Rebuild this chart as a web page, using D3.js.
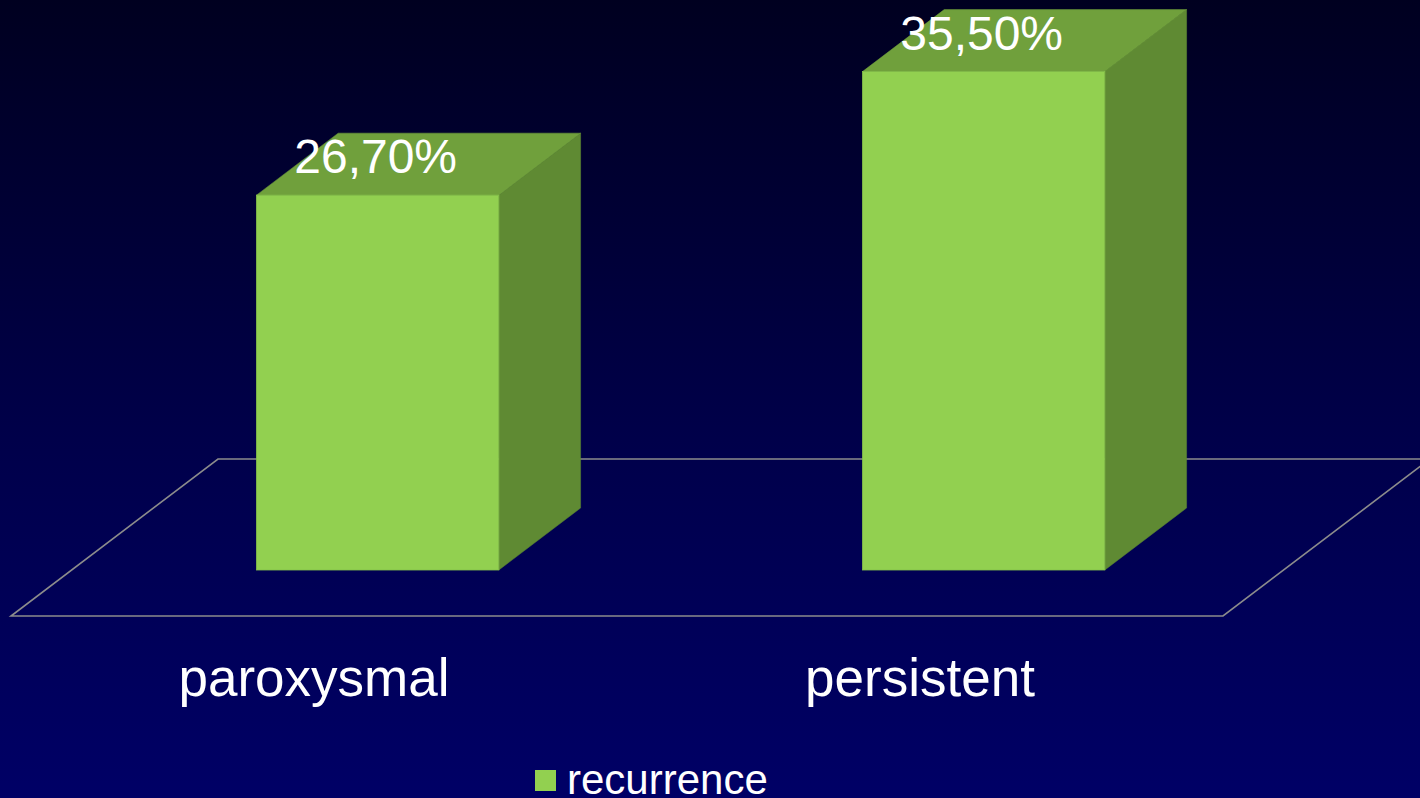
<!DOCTYPE html>
<html>
<head>
<meta charset="utf-8">
<script src="https://cdn.jsdelivr.net/npm/d3@7"></script>
<style>
html,body{margin:0;padding:0;background:#000040;overflow:hidden;}
svg{display:block;}
</style>
</head>
<body>
<svg id="chart" width="1420" height="798"></svg>
<script>
// ---- data ----
const categories = ["paroxysmal", "persistent"];
const values = [26.7, 35.5];
const valueLabels = ["26,70%", "35,50%"];
const seriesName = "recurrence";
const valueDomain = [0, 40];

// ---- layout ----
const W = 1420, H = 798;
const floorFrontY = 616, floorBackY = 459;
const floorLeft = 11, floorRight = 1223;
const depthTotal = floorFrontY - floorBackY;      // vertical depth in px
const k = 207 / 157;                               // oblique x shift per px of depth
const dFront = 46, dBack = 108;                    // bar depth positions
const barRatio = 0.4;
const barShift = 3;
const font = "'Liberation Sans', Arial, sans-serif";

const colFront = "#92D050", colTop = "#70A03C", colSide = "#5F8A33";

const svg = d3.select("#chart");
const defs = svg.append("defs");
const grad = defs.append("linearGradient").attr("id", "bg")
  .attr("x1", 0).attr("y1", 0).attr("x2", 0).attr("y2", 1);
grad.append("stop").attr("offset", "0%").attr("stop-color", "#000020");
grad.append("stop").attr("offset", "55%").attr("stop-color", "#00004A");
grad.append("stop").attr("offset", "100%").attr("stop-color", "#000066");
svg.append("rect").attr("width", W).attr("height", H).attr("fill", "url(#bg)");

const x = d3.scaleBand().domain(categories).range([floorLeft, floorRight]).padding(0);
const h = d3.scaleLinear().domain(valueDomain).range([0, 561.6]);

const proj = (px, py, d) => [px + d * k, py - d];

// floor
const floorPts = [
  [floorLeft, floorFrontY],
  [floorRight, floorFrontY],
  proj(floorRight, floorFrontY, depthTotal),
  proj(floorLeft, floorFrontY, depthTotal)
];
svg.append("path")
  .attr("d", d3.line()(floorPts) + "Z")
  .attr("fill", "none").attr("stroke", "#8C8C8C").attr("stroke-width", 1.6);

// bars
const data = categories.map((c, i) => ({c, v: values[i], label: valueLabels[i]}));
const bw = x.bandwidth() * barRatio;
const dd = dBack - dFront;

const g = svg.append("g");
data.forEach(d => {
  const cx = x(d.c) + x.bandwidth() / 2 + barShift;
  const [fcx, by] = proj(cx, floorFrontY, dFront);
  const x0 = fcx - bw / 2, x1 = fcx + bw / 2;
  const ty = by - h(d.v);
  const ox = dd * k, oy = -dd;
  // side
  g.append("path").attr("d", d3.line()([[x1, ty], [x1 + ox, ty + oy], [x1 + ox, by + oy], [x1, by]]) + "Z")
    .attr("fill", colSide).attr("stroke", colSide).attr("stroke-width", 0.5);
  // top
  g.append("path").attr("d", d3.line()([[x0, ty], [x0 + ox, ty + oy], [x1 + ox, ty + oy], [x1, ty]]) + "Z")
    .attr("fill", colTop).attr("stroke", colTop).attr("stroke-width", 0.5);
  // front
  g.append("rect").attr("x", x0).attr("y", ty).attr("width", bw).attr("height", by - ty)
    .attr("fill", colFront).attr("stroke", "#86C04A").attr("stroke-width", 0.8);
  // value label
  g.append("text").attr("x", fcx - 2).attr("y", ty - 22)
    .attr("text-anchor", "middle").attr("fill", "#FFFFFF")
    .attr("font-family", font).attr("font-size", 48).text(d.label);
});

// category labels
svg.append("g").selectAll("text").data(categories).join("text")
  .attr("x", c => x(c) + x.bandwidth() / 2)
  .attr("y", 696)
  .attr("text-anchor", "middle").attr("fill", "#FFFFFF")
  .attr("font-family", font).attr("font-size", 53)
  .text(c => c);

// legend
const lg = svg.append("g");
lg.append("rect").attr("x", 535).attr("y", 770).attr("width", 21).attr("height", 21).attr("fill", colFront);
lg.append("text").attr("x", 567).attr("y", 794).attr("fill", "#FFFFFF")
  .attr("font-family", font).attr("font-size", 42).text(seriesName);
</script>
</body>
</html>
